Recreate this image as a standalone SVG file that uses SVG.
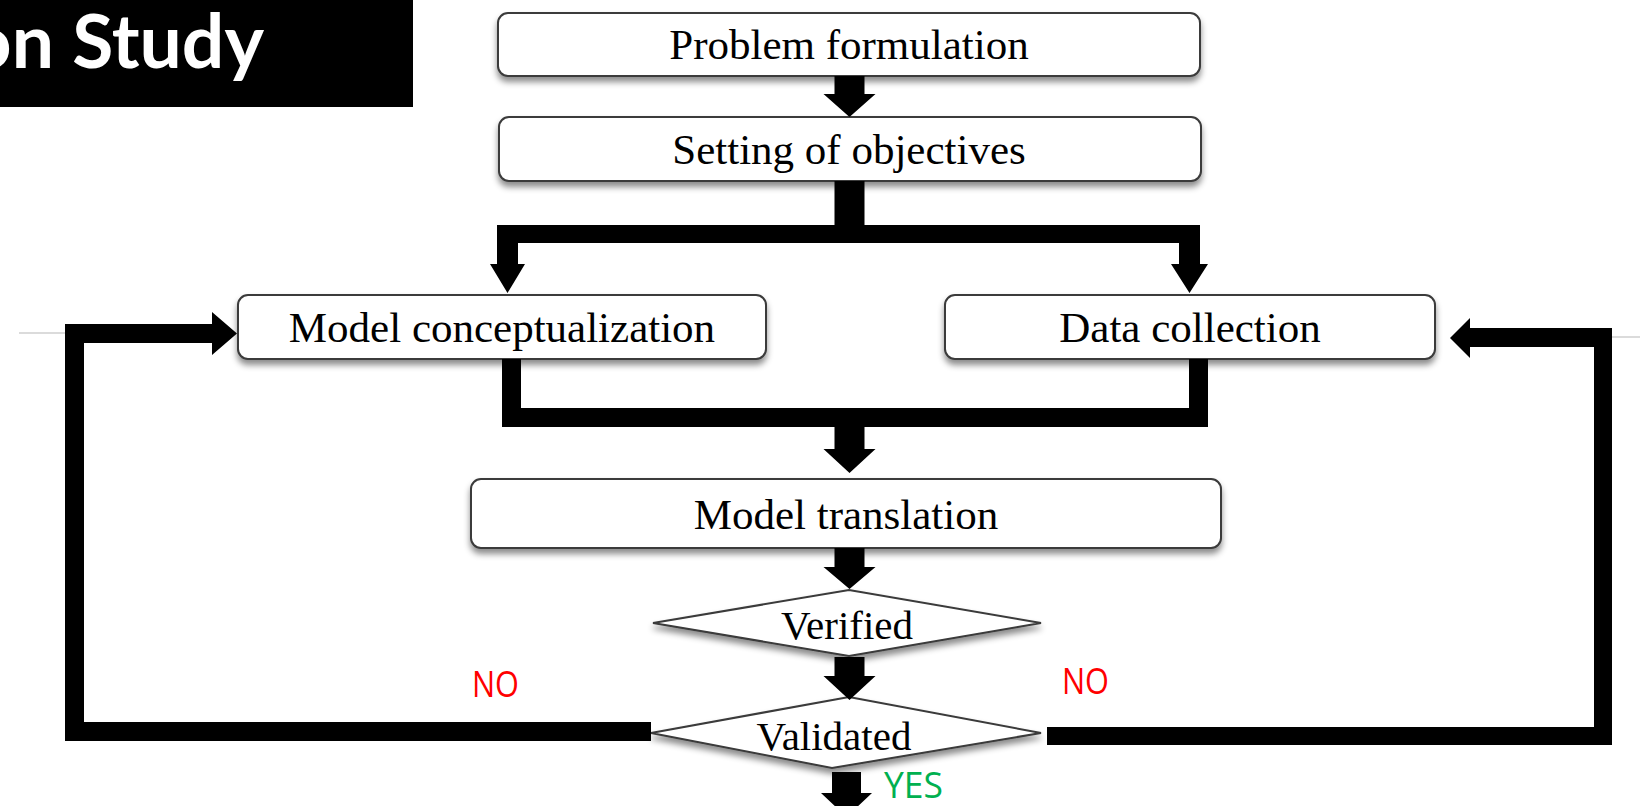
<svg xmlns="http://www.w3.org/2000/svg" width="1640" height="806" viewBox="0 0 1640 806">
<defs>
<filter id="sh" x="-10%" y="-30%" width="120%" height="170%">
<feDropShadow dx="0" dy="5" stdDeviation="3" flood-color="#000" flood-opacity="0.45"/>
</filter>
<style>
.box{fill:#fff;stroke:#3a3a3a;stroke-width:2;filter:url(#sh)}
.lbl{font-family:"Liberation Serif","Times New Roman",serif;font-size:43px;fill:#000;text-anchor:middle}
.dl{font-size:41px}
.con{fill:#000}
.no{font-family:"Open Sans","DejaVu Sans",sans-serif;font-size:37px;fill:#ff0000}
.yes{font-family:"Open Sans","DejaVu Sans",sans-serif;font-size:37px;fill:#00b050}
.thin{stroke:#cfcfcf;stroke-width:1.5}
</style>
</defs>
<rect width="1640" height="806" fill="#fff"/>
<g id="title">
<rect x="0" y="0" width="413" height="107" fill="#000"/>
<text x="264" y="68" font-family="Lato,'Open Sans',sans-serif" font-weight="700" font-size="75" fill="#fff" text-anchor="end">on Study</text>
</g>
<g id="guides">
<line class="thin" x1="19" y1="333" x2="68" y2="333"/>
<line class="thin" x1="1611" y1="337" x2="1640" y2="337"/>
</g>
<g id="problem-formulation">
<rect class="box" x="498" y="13" width="702" height="63" rx="10"/>
<text class="lbl" x="849" y="59">Problem formulation</text>
</g>
<g id="setting-of-objectives">
<rect class="box" x="499" y="117" width="702" height="64" rx="10"/>
<text class="lbl" x="849" y="164">Setting of objectives</text>
</g>
<g id="model-conceptualization">
<rect class="box" x="238" y="295" width="528" height="64" rx="10"/>
<text class="lbl" x="502" y="342">Model conceptualization</text>
</g>
<g id="data-collection">
<rect class="box" x="945" y="295" width="490" height="64" rx="10"/>
<text class="lbl" x="1190" y="342">Data collection</text>
</g>
<g id="model-translation">
<rect class="box" x="471" y="479" width="750" height="69" rx="10"/>
<text class="lbl" x="846" y="529">Model translation</text>
</g>
<g id="verified">
<polygon class="box" points="653,623 849,590 1041,623 849,656"/>
<text class="lbl dl" x="847" y="639">Verified</text>
</g>
<g id="validated">
<polygon class="box" points="651,733 849,697 1041,733 832,768"/>
<text class="lbl dl" x="834" y="750">Validated</text>
</g>
<g id="connectors">
<path class="con" d="M834.5,76H864.5V94H875.5L849.5,117L823.5,94H834.5Z"/>
<path class="con" d="M834.5,181H864.5V225H1200V264H1208L1189.5,293L1171,264H1179V243H518V264H525L507.5,293L490,264H497V225H834.5Z"/>
<path class="con" d="M502,359H521V408H1189V359H1208V427H864.5V449H875.5L849.5,473L823.5,449H834.5V427H502Z"/>
<path class="con" d="M834.5,548H864.5V567H875.5L849.5,589L823.5,567H834.5Z"/>
<path class="con" d="M834.5,657H864.5V676H875.5L849.5,700L823.5,676H834.5Z"/>
<path class="con" d="M832,772H861V793H872L846.5,817L821,793H832Z"/>
<path class="con" d="M651,722V741H65V324H212V312L237,333.5L212,355V343H84V722Z"/>
<path class="con" d="M1047,727V745H1612V328H1470V318L1450,338L1470,358V347H1594V727Z"/>
</g>
<g id="labels">
<text class="no" x="472" y="697" textLength="47" lengthAdjust="spacingAndGlyphs">NO</text>
<text class="no" x="1062" y="694" textLength="47" lengthAdjust="spacingAndGlyphs">NO</text>
<text class="yes" x="884" y="798" textLength="59" lengthAdjust="spacingAndGlyphs">YES</text>
</g>
</svg>
